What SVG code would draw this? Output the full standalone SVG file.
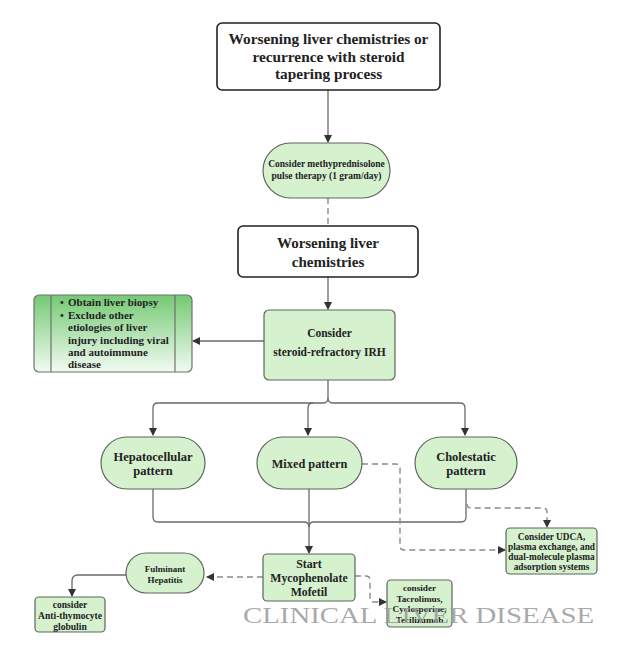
<svg xmlns="http://www.w3.org/2000/svg" width="634" height="654" viewBox="0 0 634 654">
<style>
text{font-family:"Liberation Serif","DejaVu Serif",serif;font-weight:bold;fill:#222;text-anchor:middle}
.wbox{fill:#fff;stroke:#222;stroke-width:1.6}
.g{fill:#d5f1ce;stroke:#5c665c;stroke-width:1.2}
.c{fill:none;stroke:#6a6a6a;stroke-width:1.3}
.d{fill:none;stroke:#8a8a8a;stroke-width:1.4;stroke-dasharray:6 4}
.l{text-anchor:start}
.wm{font-family:"Liberation Serif",serif;font-weight:normal;fill:#9a9a9a;fill-opacity:0.85;text-anchor:start}
</style>
<defs>
<marker id="ah" markerWidth="8" markerHeight="10" refX="7" refY="5" orient="auto" markerUnits="userSpaceOnUse">
<path d="M0,1 L8,5 L0,9 Z" fill="#333"/>
</marker>
<linearGradient id="lg" x1="0" y1="0" x2="0" y2="1">
<stop offset="0" stop-color="#74c974"/>
<stop offset="1" stop-color="#f2fbf2"/>
</linearGradient>
</defs>

<g id="connectors">
<path class="c" d="M328,90 V142" marker-end="url(#ah)"/>
<path class="d" d="M328,198 V226"/>
<path class="c" d="M328,277 V309" marker-end="url(#ah)"/>
<path class="c" d="M264,341 H193" marker-end="url(#ah)"/>
<path class="c" d="M328,380 V398 Q328,403 323,403 H158 Q153,403 153,408 V435" marker-end="url(#ah)"/>
<path class="c" d="M328,398 Q328,403 333,403 H460 Q465,403 465,408 V435" marker-end="url(#ah)"/>
<path class="c" d="M313,403 Q308,403 308,408 V435" marker-end="url(#ah)"/>
<path class="c" d="M153,489 V517 Q153,522 158,522 H304 Q309,522 309,527"/>
<path class="c" d="M466,489 V517 Q466,522 461,522 H314 Q309,522 309,527"/>
<path class="c" d="M309,489 V553" marker-end="url(#ah)"/>
<path class="d" d="M467,504 Q467,508 471,508 H543 Q547,508 547,512 V527" marker-end="url(#ah)"/>
<path class="d" d="M362,464 H396 Q400,464 400,468 V546 Q400,550 404,550 H505" marker-end="url(#ah)"/>
<path class="d" d="M355,576 H366 Q370,576 370,580 V598 Q370,602 374,602 H386" marker-end="url(#ah)"/>
<path class="d" d="M263,577 H207" marker-end="url(#ah)"/>
<path class="c" d="M126,575 H78 Q72,575 72,581 V596" marker-end="url(#ah)"/>
</g>

<g id="n1">
<rect class="wbox" x="217" y="23" width="223" height="67" rx="5"/>
<text x="328.5" y="44" font-size="15.3">Worsening liver chemistries or</text>
<text x="328.5" y="62" font-size="15.3">recurrence with steroid</text>
<text x="328.5" y="79" font-size="15.3">tapering process</text>
</g>

<g id="n2">
<rect class="g" x="263" y="143" width="127" height="55" rx="27.5"/>
<text x="326.5" y="167" font-size="9.5">Consider methyprednisolone</text>
<text x="326.5" y="179" font-size="9.5">pulse therapy (1 gram/day)</text>
</g>

<g id="n3">
<rect class="wbox" x="238" y="226" width="180" height="51" rx="5"/>
<text x="328" y="248" font-size="15">Worsening liver</text>
<text x="328" y="267" font-size="15">chemistries</text>
</g>

<g id="n4">
<rect class="g" x="264" y="310" width="131" height="70" rx="5"/>
<text x="329.5" y="337" font-size="11.5">Consider</text>
<text x="329.5" y="356" font-size="11.5">steroid-refractory IRH</text>
</g>

<g id="n5">
<rect x="34" y="295" width="158" height="77" rx="5" fill="url(#lg)" stroke="#707070" stroke-width="1.2"/>
<line x1="51" y1="295" x2="51" y2="372" stroke="#707070" stroke-width="1.2"/>
<line x1="175" y1="295" x2="175" y2="372" stroke="#707070" stroke-width="1.2"/>
<g font-size="11">
<text class="l" x="60" y="306">•</text>
<text class="l" x="68" y="306">Obtain liver biopsy</text>
<text class="l" x="60" y="318.5">•</text>
<text class="l" x="68" y="318.5">Exclude other</text>
<text class="l" x="68" y="331">etiologies of liver</text>
<text class="l" x="68" y="343.5">injury including viral</text>
<text class="l" x="68" y="356">and autoimmune</text>
<text class="l" x="68" y="368">disease</text>
</g>
</g>

<g id="n6">
<rect class="g" x="101" y="437" width="104" height="52" rx="26"/>
<text x="153" y="461" font-size="12.5">Hepatocellular</text>
<text x="153" y="475" font-size="12.5">pattern</text>
</g>

<g id="n7">
<rect class="g" x="257" y="437" width="105" height="52" rx="26"/>
<text x="309.5" y="468" font-size="12.3">Mixed pattern</text>
</g>

<g id="n8">
<rect class="g" x="415" y="437" width="102" height="52" rx="26"/>
<text x="466" y="461" font-size="12.5">Cholestatic</text>
<text x="466" y="475" font-size="12.5">pattern</text>
</g>

<g id="n9">
<rect class="g" x="506" y="528" width="91" height="46" rx="4"/>
<text x="551.5" y="540" font-size="9.3">Consider UDCA,</text>
<text x="551.5" y="550" font-size="9.3">plasma exchange, and</text>
<text x="551.5" y="560" font-size="9.3">dual-molecule plasma</text>
<text x="551.5" y="570" font-size="9.3">adsorption systems</text>
</g>

<g id="n10">
<rect class="g" x="263" y="554" width="92" height="47" rx="4"/>
<text x="309" y="568" font-size="11.8">Start</text>
<text x="309" y="582" font-size="11.8">Mycophenolate</text>
<text x="309" y="596" font-size="11.8">Mofetil</text>
</g>

<g id="n11">
<rect class="g" x="126" y="553" width="78" height="40" rx="20"/>
<text x="165" y="572" font-size="9">Fulminant</text>
<text x="165" y="583" font-size="9">Hepatitis</text>
</g>

<g id="n12">
<rect class="g" x="35" y="597" width="70" height="35" rx="4"/>
<text x="70" y="608" font-size="9.6">consider</text>
<text x="70" y="619" font-size="9.6">Anti-thymocyte</text>
<text x="70" y="629.5" font-size="9.6">globulin</text>
</g>

<g id="n13">
<rect class="g" x="387" y="580" width="65" height="47" rx="4"/>
<text x="419.5" y="591" font-size="9.2">consider</text>
<text x="419.5" y="601.5" font-size="9.2">Tacrolimus,</text>
<text x="419.5" y="612" font-size="9.2">Cyclosporine,</text>
<text x="419.5" y="622.5" font-size="9.2">Tecilizumab</text>
</g>

<text class="wm" x="243" y="623" font-size="24" textLength="351" lengthAdjust="spacingAndGlyphs">CLINICAL LIVER DISEASE</text>
</svg>
